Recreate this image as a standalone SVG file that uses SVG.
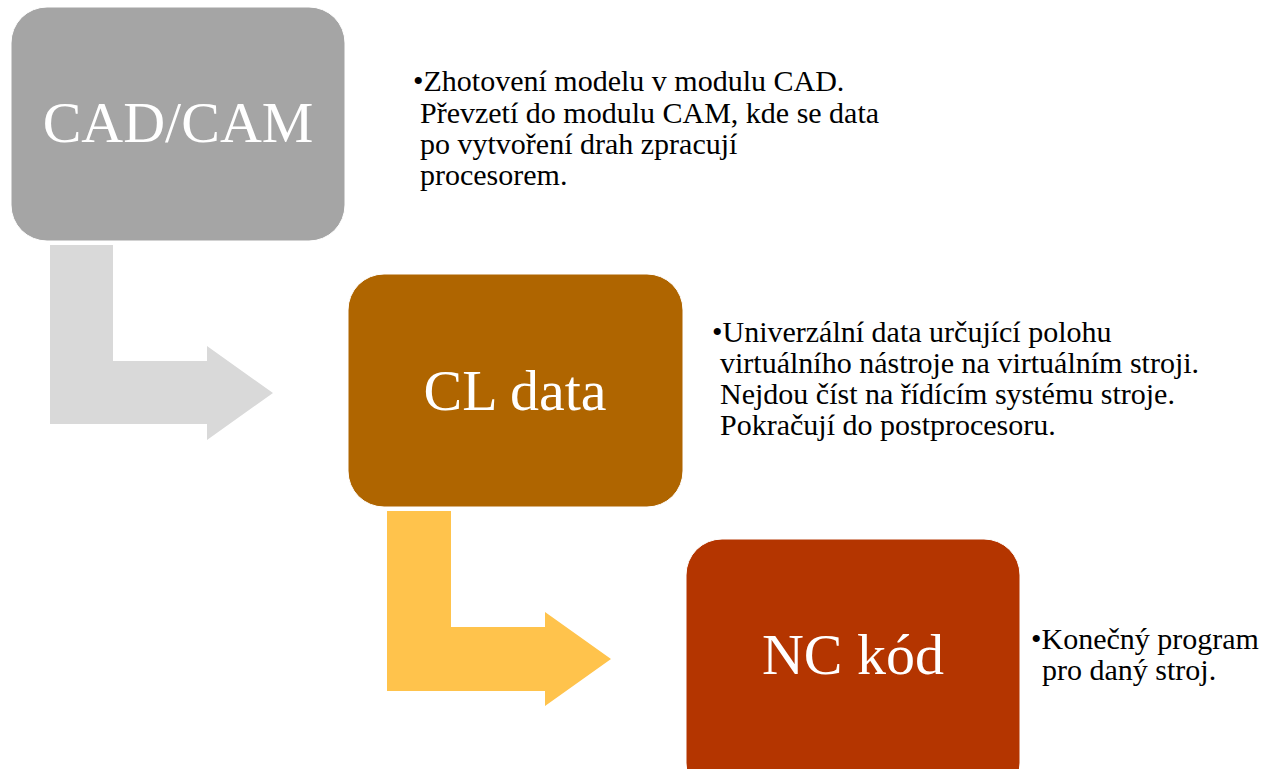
<svg xmlns="http://www.w3.org/2000/svg" width="1272" height="769" viewBox="0 0 1272 769">
<style>
.box{stroke:#ffffff;stroke-width:1}
.lbl{font-family:"Liberation Serif","Times New Roman",serif;font-size:58px;fill:#ffffff;text-anchor:middle}
.txt{font-family:"Liberation Serif","Times New Roman",serif;font-size:30px;fill:#000000}
</style>
<rect width="1272" height="769" fill="#ffffff"/>
<g id="connectors">
<path d="M50,245 H113 V361 H207 V346 L273,393 L207,440 V424 H50 Z" fill="#D9D9D9"/>
<path d="M387,511 H451 V627 H545 V612 L611,659 L545,706 V691 H387 Z" fill="#FFC34C"/>
</g>
<g id="node-cadcam">
<rect class="box" x="11" y="7" width="334" height="234" rx="36" ry="36" fill="#A5A5A5"/>
<text class="lbl" x="178" y="142">CAD/CAM</text>
</g>
<g id="text-cadcam">
<text class="txt" x="413" y="91">•Zhotovení modelu v modulu CAD.</text>
<text class="txt" x="420" y="123">Převzetí do modulu CAM, kde se data</text>
<text class="txt" x="420" y="154">po vytvoření drah zpracují</text>
<text class="txt" x="420" y="185">procesorem.</text>
</g>
<g id="node-cldata">
<rect class="box" x="348" y="274" width="335" height="233" rx="36" ry="36" fill="#AF6500"/>
<text class="lbl" x="515" y="410">CL data</text>
</g>
<g id="text-cldata">
<text class="txt" x="712" y="342">•Univerzální data určující polohu</text>
<text class="txt" x="720" y="373">virtuálního nástroje na virtuálním stroji.</text>
<text class="txt" x="720" y="404">Nejdou číst na řídícím systému stroje.</text>
<text class="txt" x="720" y="435">Pokračují do postprocesoru.</text>
</g>
<g id="node-nckod">
<rect class="box" x="686" y="539" width="334" height="260" rx="36" ry="36" fill="#B43500"/>
<text class="lbl" x="853" y="674">NC kód</text>
</g>
<g id="text-nckod">
<text class="txt" x="1031" y="649">•Konečný program</text>
<text class="txt" x="1042" y="680">pro daný stroj.</text>
</g>
</svg>
